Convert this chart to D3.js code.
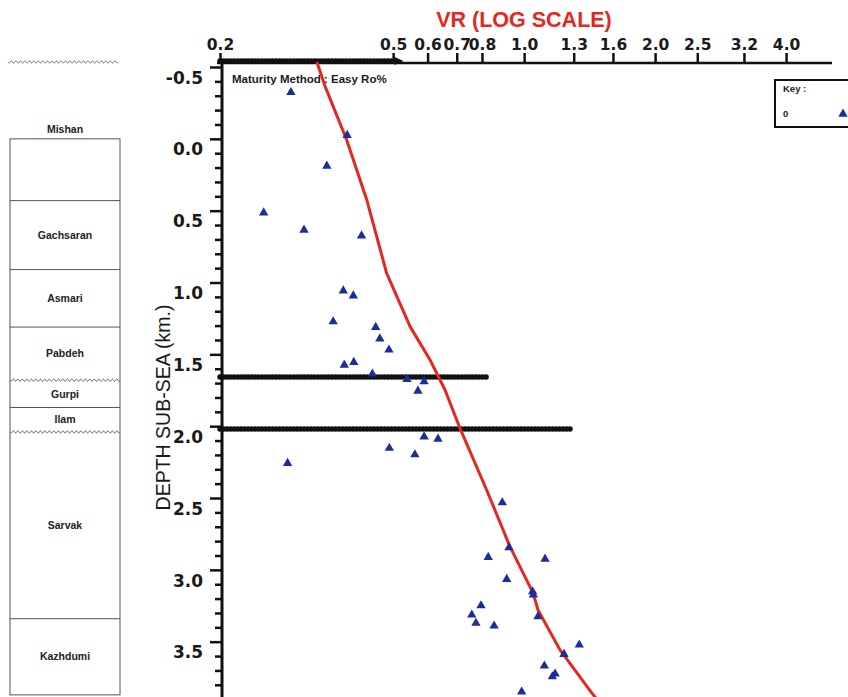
<!DOCTYPE html>
<html>
<head>
<meta charset="utf-8">
<script src="https://cdn.jsdelivr.net/npm/d3@7/dist/d3.min.js"></script>
<style>
  html, body { margin: 0; padding: 0; background: #fff; }
  svg { display: block; }
</style>
</head>
<body>
<svg id="chart" width="848" height="697"></svg>
<script>
// ---------------- DATA ----------------
// Measured vitrinite reflectance (VR, %Ro) samples and their depth (km sub-sea)
const sampleVR = [0.291, 0.392, 0.352, 0.252, 0.312, 0.423, 0.384, 0.405, 0.364, 0.456,
  0.466, 0.489, 0.386, 0.406, 0.448, 0.538, 0.589, 0.570, 0.589, 0.634,
  0.490, 0.561, 0.286, 0.891, 0.923, 0.827, 1.117, 0.912, 1.046, 1.050,
  0.796, 0.758, 0.775, 0.853, 1.076, 1.339, 1.235, 1.113, 1.161, 1.178, 0.987];
const sampleDepth = [-0.324, -0.025, 0.189, 0.514, 0.634, 0.674, 1.057, 1.092, 1.272, 1.311,
  1.391, 1.469, 1.574, 1.555, 1.636, 1.673, 1.690, 1.755, 2.073, 2.089,
  2.153, 2.198, 2.258, 2.532, 2.845, 2.912, 2.924, 3.065, 3.151, 3.174,
  3.249, 3.313, 3.371, 3.390, 3.325, 3.522, 3.587, 3.668, 3.743, 3.724, 3.849];

// Easy Ro% model curve
const modelVR = [0.334, 0.349, 0.391, 0.435, 0.483, 0.547, 0.608, 0.658, 0.712, 0.820,
  0.928, 1.048, 1.076, 1.209, 1.430, 1.46];
const modelDepth = [-0.535, -0.363, 0.008, 0.426, 0.934, 1.307, 1.539, 1.748, 2.014, 2.444,
  2.838, 3.160, 3.279, 3.557, 3.856, 3.89];

// Unconformity / erosion markers (depth, extent in VR)
const unconfDepth = [1.658, 2.02];
const unconfVR = [0.82, 1.275];
const surfaceMarkerVR = 0.52;

// Top-axis tick labels
const vrTicks = [0.2, 0.5, 0.6, 0.7, 0.8, 1.0, 1.3, 1.6, 2.0, 2.5, 3.2, 4.0];
const depthMajor = [-0.5, 0.0, 0.5, 1.0, 1.5, 2.0, 2.5, 3.0, 3.5];
const depthMinor = [-0.4,-0.3,-0.2,-0.1, 0.1,0.2,0.3,0.4, 0.6,0.7,0.8,0.9, 1.1,1.2,1.3,1.4,
  1.6,1.7,1.8,1.9, 2.1,2.2,2.3,2.4, 2.6,2.7,2.8,2.9, 3.1,3.2,3.3,3.4, 3.6,3.7,3.8];

// Stratigraphic column
const formationNames = ["Mishan", "Gachsaran", "Asmari", "Pabdeh", "Gurpi", "Ilam", "Sarvak", "Kazhdumi"];
const formationTop =    [0.0, 0.43, 0.91, 1.31, 1.68, 1.87, 2.04, 3.34];
const formationBase =   [0.43, 0.91, 1.31, 1.68, 1.87, 2.04, 3.34, 3.87];
const formationTopWavy = [false, false, false, false, true, false, true, false];
const columnSurfaceDepth = -0.535;

const keyLabels = ["0"];

// ---------------- DRAWING ----------------
const svg = d3.select("#chart");
const X0 = 220, X1 = 832;
const AXIS_TOP = 63, BOTTOM = 697;
const x = d3.scaleLog().domain([0.2, 5.1]).range([X0, X1]);
const y = d3.scaleLinear().domain([-0.5, 3.5]).range([67, 641.7]);

const RED = "#e2281f", BLUE = "#1c2c9c", INK = "#111";

// Wavy line generator (unconformity symbol)
function wavyPath(xa, xb, yy, amp, wl) {
  let d = `M${xa},${yy}`;
  for (let xx = xa; xx <= xb; xx += 0.5) {
    d += `L${xx.toFixed(2)},${(yy + amp * Math.sin((xx - xa) / wl * 2 * Math.PI)).toFixed(2)}`;
  }
  return d;
}

// ---- Stratigraphic column ----
const col = svg.append("g");
const CX0 = 10, CX1 = 120;
col.append("path").attr("d", wavyPath(8, 118, y(columnSurfaceDepth), 1.2, 4.5))
  .attr("fill", "none").attr("stroke", "#777").attr("stroke-width", 1);

col.append("rect")
  .attr("x", CX0).attr("y", y(formationTop[0]))
  .attr("width", CX1 - CX0).attr("height", y(formationBase[formationBase.length - 1]) - y(formationTop[0]))
  .attr("fill", "none").attr("stroke", "#555").attr("stroke-width", 1);

formationNames.forEach((name, i) => {
  if (i > 0) {
    if (formationTopWavy[i]) {
      col.append("path").attr("d", wavyPath(CX0, CX1, y(formationTop[i]), 1.2, 4.5))
        .attr("fill", "none").attr("stroke", "#666").attr("stroke-width", 1);
    } else {
      col.append("line").attr("x1", CX0).attr("x2", CX1)
        .attr("y1", y(formationTop[i])).attr("y2", y(formationTop[i]))
        .attr("stroke", "#555").attr("stroke-width", 1);
    }
  }
  const ly = i === 0 ? y(formationTop[i]) - 10 : y((formationTop[i] + formationBase[i]) / 2);
  col.append("text")
    .attr("x", (CX0 + CX1) / 2).attr("y", ly)
    .attr("dy", "0.35em")
    .attr("text-anchor", "middle")
    .attr("font-family", "Liberation Sans, Arial, sans-serif")
    .attr("font-weight", "bold").attr("font-size", 10.5)
    .attr("fill", "#222")
    .text(name);
});

// ---- Axes ----
// Top (VR) axis
const topAxis = d3.axisTop(x).tickValues(vrTicks).tickFormat(d3.format(".1f")).tickSize(10).tickPadding(3);
const gTop = svg.append("g").attr("transform", `translate(0,${AXIS_TOP})`).call(topAxis);
gTop.select(".domain").remove();
gTop.selectAll(".tick line").attr("stroke", INK).attr("stroke-width", 2.5);
gTop.selectAll(".tick text")
  .attr("font-family", "DejaVu Sans, sans-serif").attr("font-weight", "bold")
  .attr("font-size", 15.5).attr("fill", "#1a1a1a");
svg.append("line").attr("x1", X0 - 3).attr("x2", X1).attr("y1", AXIS_TOP).attr("y2", AXIS_TOP)
  .attr("stroke", INK).attr("stroke-width", 2.5);

// Left (depth) axis
const leftMajor = d3.axisLeft(y).tickValues(depthMajor).tickFormat(d3.format(".1f")).tickSize(12).tickPadding(7);
const gL = svg.append("g").attr("transform", `translate(${X0 + 2},0)`).call(leftMajor);
gL.select(".domain").remove();
gL.selectAll(".tick line").attr("stroke", INK).attr("stroke-width", 2.5);
gL.selectAll(".tick text")
  .attr("font-family", "DejaVu Sans, sans-serif").attr("font-weight", "bold")
  .attr("font-size", 17).attr("fill", "#1a1a1a")
  .attr("dy", "0.95em")
  .text(d => d3.format(".1f")(d).replace("−", "-"));

const leftMinor = d3.axisLeft(y).tickValues(depthMinor).tickFormat("").tickSize(7);
const gLm = svg.append("g").attr("transform", `translate(${X0 + 2},0)`).call(leftMinor);
gLm.select(".domain").remove();
gLm.selectAll(".tick line").attr("stroke", INK).attr("stroke-width", 2.5);

svg.append("line").attr("x1", X0 + 2).attr("x2", X0 + 2).attr("y1", AXIS_TOP - 1).attr("y2", BOTTOM)
  .attr("stroke", INK).attr("stroke-width", 3);

// Axis titles
svg.append("text")
  .attr("x", 524).attr("y", 27)
  .attr("text-anchor", "middle")
  .attr("font-family", "Liberation Sans, Arial, sans-serif")
  .attr("font-weight", "bold").attr("font-size", 21.5)
  .attr("fill", RED)
  .text("VR (LOG SCALE)");

svg.append("text")
  .attr("transform", `translate(170,${y(1.87)}) rotate(-90)`)
  .attr("text-anchor", "middle")
  .attr("font-family", "Liberation Sans, Arial, sans-serif")
  .attr("font-size", 19.5)
  .attr("fill", "#1a1a1a")
  .text("DEPTH SUB-SEA (km.)");

svg.append("text")
  .attr("x", 232).attr("y", 83)
  .attr("font-family", "Liberation Sans, Arial, sans-serif")
  .attr("font-weight", "bold").attr("font-size", 11.5)
  .attr("fill", "#1a1a1a")
  .text("Maturity Method : Easy Ro%");

// ---- Beaded unconformity lines ----
function beaded(x1, x2, yy) {
  svg.append("line").attr("x1", x1).attr("x2", x2).attr("y1", yy).attr("y2", yy)
    .attr("stroke", INK).attr("stroke-width", 2.5);
  svg.append("line").attr("x1", x1).attr("x2", x2).attr("y1", yy).attr("y2", yy)
    .attr("stroke", INK).attr("stroke-width", 5.5)
    .attr("stroke-linecap", "round").attr("stroke-dasharray", "0.1 3.4");
}
unconfDepth.forEach((dep, i) => beaded(x(0.2), x(unconfVR[i]), y(dep)));

// surface marker on top axis with arrow
beaded(x(0.2), x(surfaceMarkerVR) - 4, AXIS_TOP - 2);
svg.append("path")
  .attr("d", `M${x(surfaceMarkerVR) - 6},${AXIS_TOP - 6} L${x(surfaceMarkerVR) + 3},${AXIS_TOP - 2} L${x(surfaceMarkerVR) - 6},${AXIS_TOP + 2} Z`)
  .attr("fill", INK);

// ---- Model curve ----
const line = d3.line().x(d => x(d[0])).y(d => y(d[1]));
svg.append("path")
  .datum(modelVR.map((v, i) => [v, modelDepth[i]]))
  .attr("d", line)
  .attr("fill", "none").attr("stroke", RED).attr("stroke-width", 3)
  .attr("stroke-linejoin", "round");

// ---- Samples ----
const tri = d3.symbol().type(d3.symbolTriangle).size(38);
svg.append("g").selectAll("path")
  .data(sampleVR.map((v, i) => [v, sampleDepth[i]]))
  .join("path")
  .attr("d", tri)
  .attr("transform", d => `translate(${x(d[0])},${y(d[1])})`)
  .attr("fill", BLUE);

// ---- Key ----
const key = svg.append("g");
key.append("rect").attr("x", 775).attr("y", 80).attr("width", 90).attr("height", 47)
  .attr("fill", "#fff").attr("stroke", INK).attr("stroke-width", 2);
key.append("text").attr("x", 783).attr("y", 92)
  .attr("font-family", "Liberation Sans, Arial, sans-serif").attr("font-size", 9.5).attr("font-weight", "bold")
  .attr("fill", "#222").text("Key :");
keyLabels.forEach((k, i) => {
  key.append("text").attr("x", 783).attr("y", 117 + i * 12)
    .attr("font-family", "Liberation Sans, Arial, sans-serif").attr("font-size", 9.5).attr("font-weight", "bold")
    .attr("fill", "#222").text(k);
  key.append("path").attr("d", tri).attr("transform", `translate(843,${114 + i * 12})`).attr("fill", BLUE);
});
</script>
</body>
</html>
